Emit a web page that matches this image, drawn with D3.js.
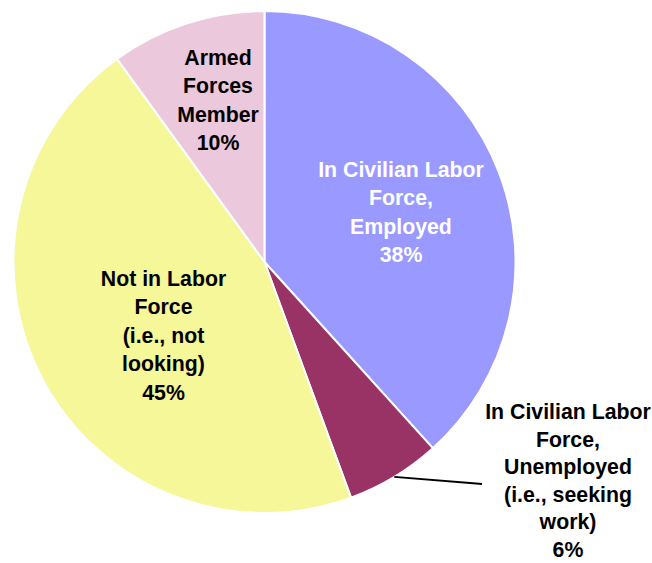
<!DOCTYPE html>
<html>
<head>
<meta charset="utf-8">
<script src="https://cdn.jsdelivr.net/npm/d3@7"></script>
<style>
  html, body { margin: 0; padding: 0; background: #fff; }
  svg { display: block; }
  text { font-family: "Liberation Sans", Arial, sans-serif; font-weight: bold; }
</style>
</head>
<body>
<svg id="chart" width="652" height="563"></svg>
<script>
// ---- data ----
const categories = [
  "In Civilian Labor Force, Employed",
  "In Civilian Labor Force, Unemployed (i.e., seeking work)",
  "Not in Labor Force (i.e., not looking)",
  "Armed Forces Member"
];
const values = [38.3, 6.1, 45.6, 10.0];
const percentLabels = ["38%", "6%", "45%", "10%"];
const labelLines = [
  ["In Civilian Labor", "Force,", "Employed"],
  ["In Civilian Labor", "Force,", "Unemployed", "(i.e., seeking", "work)"],
  ["Not in Labor", "Force", "(i.e., not", "looking)"],
  ["Armed", "Forces", "Member"]
];
const colors = ["#9999ff", "#993366", "#f5f799", "#ecc8dc"];
const textColors = ["#ffffff", "#000000", "#000000", "#000000"];

// ---- layout (not data) ----
const W = 652, H = 563;
const cx = 264.5, cy = 262, R = 251;
const lineHs = [28.3, 27.6, 28.4, 28.3];
const fontSize = 21.3;
// label block: center x and first baseline, relative to pie centre
const labelOffsets = [[136.5, -85], [303.5, 157], [-101, 24], [-46.5, -197]];
const leaderEnd = [217.5, 222];

const svg = d3.select("#chart");
const g = svg.append("g").attr("transform", `translate(${cx},${cy})`);

const pie = d3.pie().sort(null).value(d => d)(values);
const arc = d3.arc().innerRadius(0).outerRadius(R);

g.selectAll("path.slice")
  .data(pie)
  .join("path")
  .attr("class", "slice")
  .attr("d", arc)
  .attr("fill", (d, i) => colors[i])
  .attr("stroke", "#ffffff")
  .attr("stroke-width", 2)
  .attr("stroke-linejoin", "round");

// leader line for the unemployed slice
const u = pie[1];
const mid = (u.startAngle + u.endAngle) / 2;
const start = [R * Math.sin(mid), -R * Math.cos(mid)];
g.append("path")
  .attr("d", d3.line()([start, [leaderEnd[0] - 12, leaderEnd[1] - 1], leaderEnd]))
  .attr("fill", "none")
  .attr("stroke", "#000")
  .attr("stroke-width", 1.8);

// labels
pie.forEach((d, i) => {
  const lines = labelLines[i].concat([percentLabels[i]]);
  const [ox, oy] = labelOffsets[i];
  const t = g.append("text")
    .attr("text-anchor", "middle")
    .attr("font-size", fontSize)
    .attr("fill", textColors[i]);
  lines.forEach((ln, k) => {
    t.append("tspan")
      .attr("x", ox)
      .attr("y", oy + k * lineHs[i])
      .text(ln);
  });
});
</script>
</body>
</html>
